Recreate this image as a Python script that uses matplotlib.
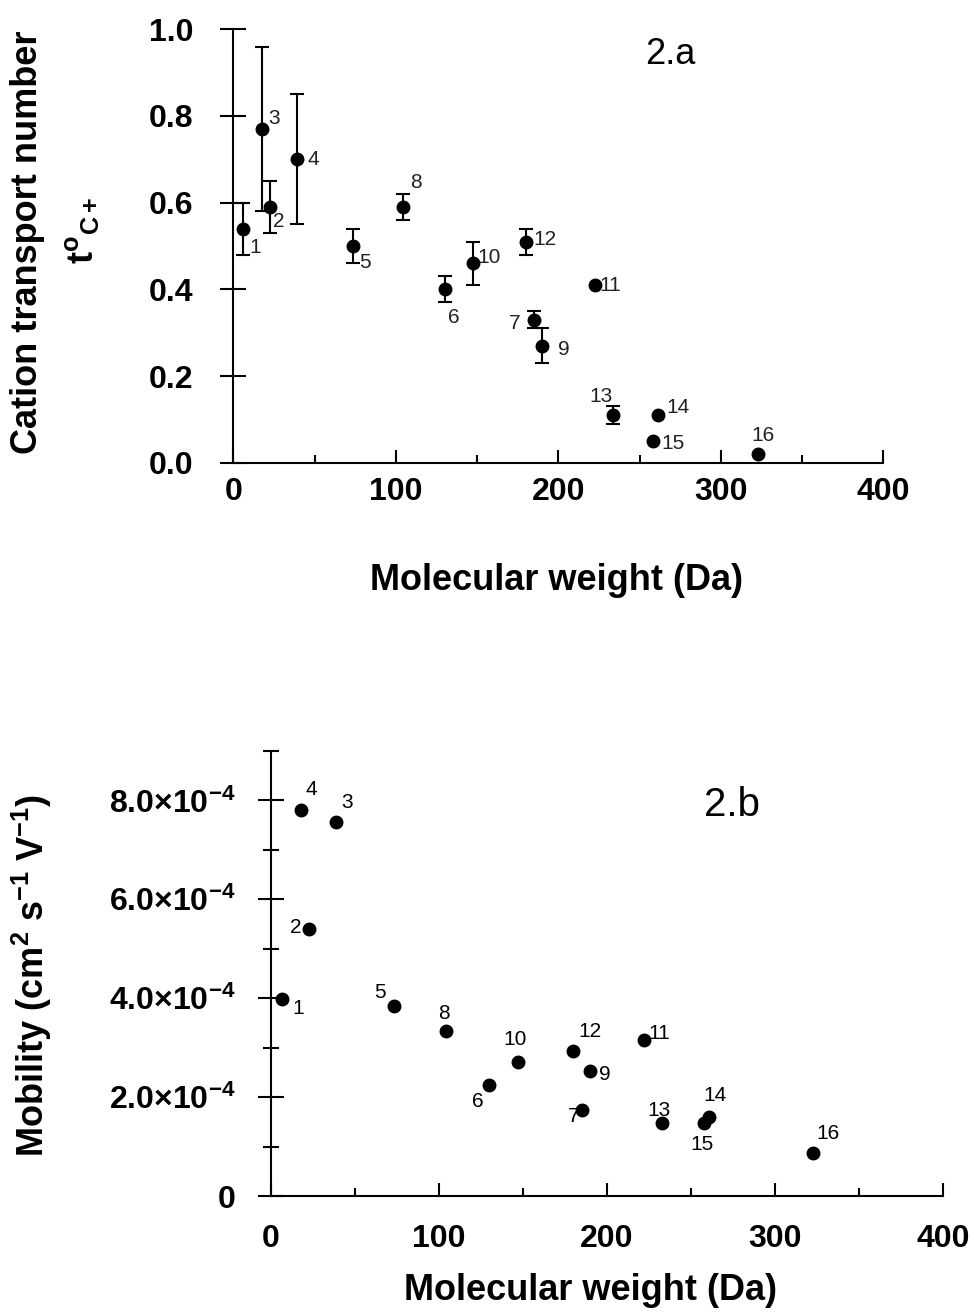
import numpy as np
import matplotlib
matplotlib.use("Agg")
import matplotlib.pyplot as plt
from matplotlib.ticker import MultipleLocator, FixedLocator

plt.rcParams["font.family"] = ["Liberation Sans", "DejaVu Sans"]
plt.rcParams["mathtext.fontset"] = "custom"
plt.rcParams["mathtext.rm"] = "Liberation Sans:bold"
plt.rcParams["mathtext.it"] = "Liberation Sans:bold"
plt.rcParams["mathtext.bf"] = "Liberation Sans:bold"
plt.rcParams["mathtext.sf"] = "Liberation Sans:bold"

# ---- data ----
ids = [str(i) for i in range(1, 17)]

# 2.a cation transport number
mw_a = [6.2, 22.6, 17.9, 39.0, 73.8, 130.3, 185.2, 104.2, 190.0, 147.7,
        222.4, 180.1, 233.5, 261.2, 258.0, 322.7]
t_a = [0.54, 0.59, 0.77, 0.70, 0.50, 0.40, 0.33, 0.59, 0.27, 0.46,
       0.41, 0.51, 0.11, 0.11, 0.05, 0.02]
err_a = [0.06, 0.06, 0.19, 0.15, 0.04, 0.03, 0.02, 0.03, 0.04, 0.05,
         0.0, 0.03, 0.02, 0.0, 0.0, 0.0]

# 2.b mobility (x 1e-4 cm2 s-1 V-1)
mw_b = [6.4, 22.8, 38.7, 17.9, 73.4, 129.8, 185.3, 104.2, 190.0, 146.8,
        222.1, 180.0, 232.9, 260.9, 257.7, 322.7]
mob_b = [3.99, 5.39, 7.56, 7.80, 3.85, 2.24, 1.74, 3.34, 2.53, 2.71,
         3.15, 2.93, 1.47, 1.60, 1.47, 0.87]

yticks_b = [0, 2e-4, 4e-4, 6e-4, 8e-4]
yticklabels_b = ["0", r"$2.0{\times}10^{-4}$", r"$4.0{\times}10^{-4}$",
                 r"$6.0{\times}10^{-4}$", r"$8.0{\times}10^{-4}$"]

# label offsets in pixels (dx, dy)
off_a = [(12, -19), (9, -15), (12, 10), (17, 0), (12, -17), (9, -28), (-20, -4),
         (13, 24), (22, -4), (16, 6), (16, 0), (19, 2), (-12, 19), (20, 8),
         (20, -2), (5, 19)]
off_b = [(16, -10), (-14, 2), (11, 20), (10, 21), (-14, 13), (-11, -16), (-9, -7),
         (-2, 17), (15, -4), (-3, 23), (15, 7), (17, 20), (-3, 13), (6, 21),
         (-2, -21), (15, 19)]

W, H = 974, 1315
fig = plt.figure(figsize=(W / 100, H / 100), dpi=100)

def style_axes(ax, ypad):
    for s in ("top", "right"):
        ax.spines[s].set_visible(False)
    for s in ("left", "bottom"):
        ax.spines[s].set_linewidth(1.5)
    ax.xaxis.set_major_locator(MultipleLocator(100))
    ax.xaxis.set_minor_locator(MultipleLocator(50))
    ax.tick_params(axis="x", which="major", direction="in", length=9.5, width=1.5,
                   labelsize=23)
    ax.tick_params(axis="x", which="minor", direction="in", length=5.5, width=1.5)
    ax.tick_params(axis="y", which="major", direction="inout", length=19, width=1.5,
                   labelsize=23, pad=ypad)
    for lab in ax.get_xticklabels() + ax.get_yticklabels():
        lab.set_fontweight("bold")

# ====== 2.a ======
ax1 = fig.add_axes([233.3 / W, 1 - 462.7 / H, 650 / W, 433.4 / H])
mw_a_arr, t_a_arr, err_a_arr = np.array(mw_a), np.array(t_a), np.array(err_a)
m = err_a_arr > 0
ax1.errorbar(mw_a_arr[m], t_a_arr[m], yerr=err_a_arr[m], fmt="none", ecolor="black",
             elinewidth=1.5, capsize=5, capthick=1.5, clip_on=False)
ax1.plot(mw_a, t_a, "o", color="black", ms=9, clip_on=False, zorder=3)
for lab, x, y, (dx, dy) in zip(ids, mw_a, t_a, off_a):
    ax1.annotate(lab, (x, y), xytext=(dx, dy), textcoords="offset pixels",
                 ha="center", va="center", fontsize=15, color="#222222")
ax1.set_xlim(0, 400)
ax1.set_ylim(0, 1.0)
ax1.yaxis.set_major_locator(MultipleLocator(0.2))
ax1.yaxis.set_major_formatter(plt.FormatStrFormatter("%.1f"))
style_axes(ax1, ypad=19)
ax1.tick_params(axis="x", which="major", pad=10)
ax1.text(670 / W, 1 - 55 / H, "2.a", transform=fig.transFigure, fontsize=26,
         ha="center", va="center")

fig.text(28 / W, 1 - 242 / H, "Cation transport number", rotation=90,
         fontsize=26, fontweight="bold", ha="center", va="center")
fig.text(82 / W, 1 - 230 / H, r"t$^{o}{}_{C+}$", rotation=90,
         fontsize=26, fontweight="bold", ha="center", va="center")
fig.text(556 / W, 1 - 580 / H, "Molecular weight (Da)", fontsize=26,
         fontweight="bold", ha="center", va="center")

# ====== 2.b ======
ax2 = fig.add_axes([271 / W, 1 - 1196 / H, 672 / W, 445 / H])
ax2.plot(mw_b, np.array(mob_b) * 1e-4, "o", color="black", ms=9, clip_on=False,
         zorder=3)
for lab, x, y, (dx, dy) in zip(ids, mw_b, mob_b, off_b):
    ax2.annotate(lab, (x, y * 1e-4), xytext=(dx, dy), textcoords="offset pixels",
                 ha="center", va="center", fontsize=15, color="black")
ax2.set_xlim(0, 400)
ax2.set_ylim(0, 9e-4)
ax2.yaxis.set_major_locator(FixedLocator(yticks_b))
ax2.set_yticklabels(yticklabels_b)
ax2.yaxis.set_minor_locator(MultipleLocator(1e-4))
style_axes(ax2, ypad=16)
ax2.tick_params(axis="y", which="minor", direction="inout", length=11.5, width=1.5)
ax2.tick_params(axis="x", which="major", pad=20)
ax2.text(732 / W, 1 - 805 / H, "2.b", transform=fig.transFigure, fontsize=29,
         ha="center", va="center")

fig.text(32 / W, 1 - 975 / H, r"Mobility (cm$^{2}$ s$^{-1}$ V$^{-1}$)", rotation=90,
         fontsize=26, fontweight="bold", ha="center", va="center")
fig.text(591 / W, 1 - 1290 / H, "Molecular weight (Da)", fontsize=26,
         fontweight="bold", ha="center", va="center")

fig.savefig("out.png", dpi=100)
